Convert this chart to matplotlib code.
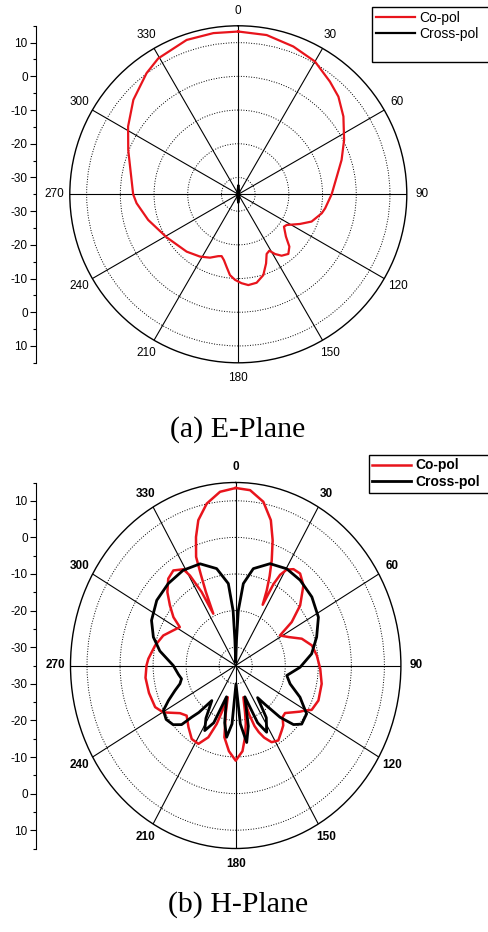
import numpy as np
import matplotlib.pyplot as plt
from matplotlib.lines import Line2D

plt.rcParams['font.family'] = ['Liberation Sans', 'DejaVu Sans']

# E-plane, co-pol (angle in deg, gain in dB)
e_ang = [0, 10.1, 20.4, 30, 39.1, 45.7, 53.5, 62.8, 71.6, 79.8, 90, 99.2, 102.8,
         110.4, 115.7, 122.4, 125.3, 131.6, 135.7, 140, 144.8, 148.4, 151.2, 154.6,
         158.1, 162.8, 168.3, 173.7, 177.9, 182.2, 185.9, 189.2, 192.3, 195.1, 198,
         204.1, 211.6, 222, 239, 254.1, 265, 270, 291.9, 301.6, 312, 322.9, 329.5,
         341.5, 351.2, 360]
e_co = [13.3, 13.0, 11.8, 10.5, 8.1, 6.5, 3.8, 0.3, -2.7, -5.3, -7.3, -8.9, -9.6,
        -11.8, -14.7, -18.0, -18.4, -16.1, -13.3, -11.9, -12.7, -14.2, -15.9, -15.4,
        -12.9, -9.9, -8.2, -7.9, -8.6, -9.6, -10.9, -13.2, -15.0, -16.0, -15.7,
        -14.4, -13.3, -12.1, -10.2, -7.2, -4.7, -3.8, 0.2, 3.4, 6.9, 10.1, 11.8,
        13.3, 13.4, 13.3]

# E-plane, cross-pol (almost entirely below the -35 dB floor)
e_x_ang = [0, 20, 90, 160, 180, 200, 270, 340, 360]
e_x = [-32.5, -34.2, -34.8, -34.2, -32.5, -34.2, -34.8, -34.2, -32.5]

# H-plane, co-pol
h_ang = [0, 5.2, 10.6, 15, 18.1, 20.8, 22.8, 24.6, 26.2, 27.2, 28.5, 30.5, 33.6,
         37.8, 43.1, 49.9, 55, 58.5, 64.1, 69.9, 76.6, 83.6, 92, 100.9, 110.9, 117.8,
         120.4, 122.9, 127, 131, 134.8, 138.7, 142, 147.8, 152.6, 156.4, 159, 161,
         163, 165, 167.5, 169, 171.8, 175, 180, 185, 189.9, 192.9, 195.5, 198.3,
         199.8, 202.9, 207.8, 213.5, 220.3, 227.3, 232.3, 239.7, 245, 254, 263, 270,
         274, 282.6, 290.5, 296.9, 301.8, 305, 309.5, 314.1, 319.3, 324, 328.9,
         330.6, 332.8, 334.4, 335.8, 337, 338, 341.1, 344.1, 348.8, 354.3, 360]
h_co = [13.5, 13.1, 10.5, 6.1, 1.0, -4.3, -8.5, -12.4, -16.5, -10.0, -6.8, -4.6,
        -3.4, -3.2, -5.0, -9.5, -14.3, -19.3, -17.2, -13.7, -11.3, -10.3, -9.4,
        -8.5, -8.2, -9.0, -10.7, -11.8, -13.7, -15.2, -15.0, -13.2, -12.4, -10.8,
        -11.4, -13.5, -15.5, -17.5, -21.0, -26.0, -22.0, -19.0, -15.2, -11.5, -9.0,
        -11.5, -15.1, -21.4, -26.0, -21.5, -18.0, -13.7, -10.8, -10.9, -12.9,
        -14.8, -13.7, -9.6, -8.1, -7.7, -7.5, -8.0, -8.5, -10.0, -11.6, -13.8,
        -15.1, -12.0, -9.2, -6.2, -3.7, -2.9, -4.3, -6.8, -12.4, -19.3, -13.0,
        -8.0, -3.0, 2.1, 6.3, 10.1, 12.7, 13.5]

# H-plane, cross-pol
h_x_ang = [0, 2, 3, 5.9, 11.4, 20.5, 30.3, 39.9, 50.9, 62.2, 72.4, 82.1, 91.4, 100,
           106.9, 114, 121.6, 128.7, 132.7, 136.5, 140, 143, 147, 152.8, 157, 162,
           167, 171, 175, 179, 184, 188, 192, 198, 203, 207.8, 212, 217, 221, 223.3,
           225.4, 229.5, 235, 240.7, 244.8, 249.6, 253.5, 257.5, 262, 270, 279.8,
           287.3, 295.8, 306.7, 317.6, 328.6, 338.8, 347.7, 354.3, 357, 358, 360]
h_x = [-34, -28, -20, -12.5, -8.0, -5.3, -4.4, -4.6, -5.3, -6.7, -9.3, -11.8, -15.5,
       -19.3, -17.8, -13.7, -9.8, -9.4, -11.2, -15.5, -21, -24, -18, -14.5, -18, -26,
       -18, -13.7, -19, -30, -19, -15.2, -19, -26, -18, -14.9, -18, -23, -18, -15.6,
       -12, -10.1, -9.3, -9.9, -12.5, -15.4, -17.4, -18.2, -17.5, -16.1, -11.7,
       -8.9, -6.7, -5.2, -4.7, -4.5, -5.2, -7.9, -12.5, -20, -28, -34]

angle_labels = [str(a) for a in range(0, 360, 30)]
side_labels = ['10', '0', '-10', '-20', '-30']

RED = '#e8141c'
W, H = 488, 932

fig = plt.figure(figsize=(W / 100, H / 100), dpi=100)


def panel(cx, cy, rx, ry, bold):
    wt = 'bold' if bold else 'normal'
    ax = fig.add_axes([(cx - rx) / W, 1 - (cy + ry) / H, 2 * rx / W, 2 * ry / H],
                      projection='polar')
    ax.set_theta_zero_location('N')
    ax.set_theta_direction(-1)
    ax.set_ylim(-35, 15)
    ax.set_yticks([-30, -20, -10, 0, 10])
    ax.set_yticklabels([])
    ax.yaxis.grid(True, ls=':', color='k', lw=0.7)
    ax.set_xticks(np.radians(np.arange(0, 360, 30)))
    ax.set_xticklabels(angle_labels, fontsize=8.5, fontweight=wt)
    ax.set_xticks(np.radians(np.arange(15, 360, 30)), minor=True)
    ax.xaxis.grid(True, which='major', color='k', lw=0.8, ls='-')
    ax.tick_params(axis='x', which='major', length=0, pad=4)
    ax.tick_params(axis='x', which='minor', direction='in', length=4, width=0.8)
    ax.spines['polar'].set_linewidth(1.0)
    ax.set_aspect('auto')

    # mirrored dB scale on the left
    lax = fig.add_axes([36 / W, 1 - (cy + ry) / H, 0.001, 2 * ry / H])
    lax.patch.set_visible(False)
    for s in ['top', 'right', 'bottom']:
        lax.spines[s].set_visible(False)
    lax.set_xticks([])
    lax.set_ylim(-50, 50)
    pos = [45, 35, 25, 15, 5, -5, -15, -25, -35, -45]
    lax.set_yticks(pos)
    lax.set_yticklabels(side_labels + side_labels[::-1], fontsize=8.5)
    lax.set_yticks(np.arange(-50, 51, 10), minor=True)
    lax.tick_params(axis='y', which='major', length=4, width=0.8, pad=2)
    lax.tick_params(axis='y', which='minor', length=2.5, width=0.8)
    return ax


# (a) E-Plane
ax1 = panel(238.3, 194.3, 168.5, 168.5, False)
ax1.plot(np.radians(e_ang), e_co, color=RED, lw=1.6, label='Co-pol')
ax1.plot(np.radians(e_x_ang), e_x, color='k', lw=1.6, label='Cross-pol')
h1, l1 = ax1.get_legend_handles_labels()
h1.append(Line2D([], [], color='none'))
l1.append(' ')
fig.legend(h1, l1, loc='upper left', mode='expand',
           bbox_to_anchor=(372 / W, 1 - 60 / H, 0.4, 53 / H),
           fontsize=10, frameon=True, fancybox=False, edgecolor='k',
           framealpha=1, handlelength=2.8, handletextpad=0.3,
           borderaxespad=0, labelspacing=0.15, borderpad=0.3)
fig.text(238 / W, 1 - 430 / H, '(a) E-Plane', ha='center', va='center',
         family='Liberation Serif', fontsize=21.5)

# (b) H-Plane
ax2 = panel(235.7, 665.5, 165.2, 183.0, True)
ax2.plot(np.radians(h_ang), h_co, color=RED, lw=1.8, label='Co-pol')
ax2.plot(np.radians(h_x_ang), h_x, color='k', lw=2.0, label='Cross-pol')
h2, l2 = ax2.get_legend_handles_labels()
fig.legend(h2, l2, loc='upper left', mode='expand',
           bbox_to_anchor=(369 / W, 1 - 494 / H, 0.4, 39 / H),
           prop={'size': 10, 'weight': 'bold'}, frameon=True, fancybox=False,
           edgecolor='k', framealpha=1, handlelength=2.8, handletextpad=0.3,
           borderaxespad=0, labelspacing=0.2, borderpad=0.25)
fig.text(238 / W, 1 - 905 / H, '(b) H-Plane', ha='center', va='center',
         family='Liberation Serif', fontsize=21.5)

fig.savefig('out.png', dpi=100, facecolor='white')
